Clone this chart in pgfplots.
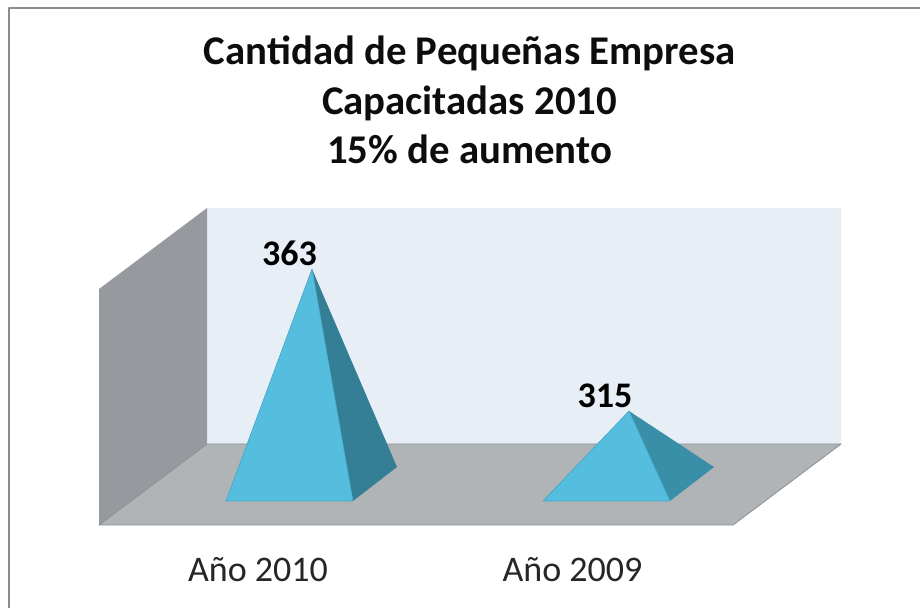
\documentclass[border=0pt]{standalone}
\usepackage{pgfplots}
\pgfplotsset{compat=1.18}
\usepackage{fontspec}
\setmainfont{Carlito}
\definecolor{wall}{HTML}{E8EEF5}
\definecolor{side}{HTML}{96999D}
\definecolor{floorc}{HTML}{B0B4B7}
\definecolor{edgec}{HTML}{8E9195}
\definecolor{front}{HTML}{55BEDE}
\definecolor{frontedge}{HTML}{45A5C2}
\definecolor{dark}{HTML}{347F95}
\definecolor{dark2}{HTML}{3A8FA8}
\definecolor{frame}{HTML}{8C8C8C}
\begin{document}
\begin{tikzpicture}
\begin{axis}[
  scale only axis, width=920pt, height=608pt,
  xmin=0, xmax=920, ymin=248.41, ymax=453.93,
  hide axis, clip=true,
  every axis plot/.append style={line join=round}
]
% canvas, so the page has the full size
\addplot[fill=white, draw=none] coordinates {(0,248.41) (920,248.41) (920,453.93) (0,453.93)} -- cycle;
% chart frame
\addplot[draw=frame, line width=1.2pt] coordinates {(9,248.41) (9,451.23) (920,451.23)};
% back wall, side wall, floor
\addplot[fill=wall, draw=none] coordinates {(207,383.62) (841,383.62) (841,303.85) (207,303.85)} -- cycle;
\addplot[fill=side, draw=none] coordinates {(99,356.24) (207,383.62) (207,303.85) (99,276.46)} -- cycle;
\addplot[fill=floorc, draw=edgec, line width=0.9pt] coordinates {(99,276.46) (207,303.85) (841,303.85) (733,276.46)} -- cycle;
% pyramid Año 2010: value 363
\addplot[fill=dark, draw=none] coordinates {(353,284.58) (397,296.07) (312,363)} -- cycle;
\addplot[fill=front, draw=frontedge, line width=0.6pt] coordinates {(226,284.58) (353,284.58) (312,363)} -- cycle;
% pyramid Año 2009: value 315
\addplot[fill=dark2, draw=none] coordinates {(670,284.58) (714,296.07) (629,315)} -- cycle;
\addplot[fill=front, draw=frontedge, line width=0.6pt] coordinates {(543,284.58) (670,284.58) (629,315)} -- cycle;
% labels
\node[font=\fontsize{40.8}{48}\selectfont\bfseries, anchor=base, text=black!95] at (axis cs:469.5,431.96) {Can\kern0pt tidad de Pequeñas Empresa};
\node[font=\fontsize{40.8}{48}\selectfont\bfseries, anchor=base, text=black!95] at (axis cs:469.5,415.39) {Capacitadas 2010};
\node[font=\fontsize{40.8}{48}\selectfont\bfseries, anchor=base, text=black!95] at (axis cs:469.5,398.83) {15\% de aumento};
\node[font=\fontsize{36}{44}\selectfont\bfseries, anchor=base, text=black] at (axis cs:289.5,364.35) {363};
\node[font=\fontsize{36}{44}\selectfont\bfseries, anchor=base, text=black] at (axis cs:605,316.35) {315};
\node[font=\fontsize{36}{44}\selectfont, anchor=base, text=black!85] at (axis cs:258,257.53) {Año 2010};
\node[font=\fontsize{36}{44}\selectfont, anchor=base, text=black!85] at (axis cs:572.5,257.53) {Año 2009};
\end{axis}
\end{tikzpicture}
\end{document}
